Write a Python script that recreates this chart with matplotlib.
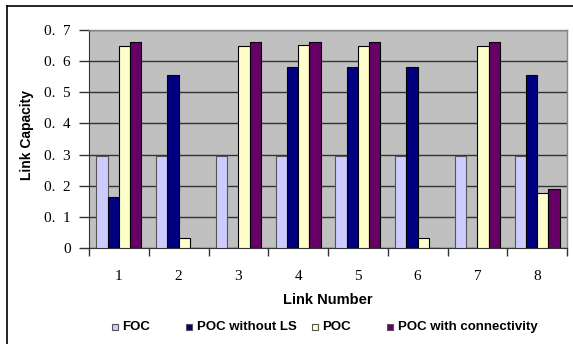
import numpy as np
import matplotlib.pyplot as plt
from matplotlib.lines import Line2D
from matplotlib.patches import Rectangle

links = [1, 2, 3, 4, 5, 6, 7, 8]
foc = [0.295, 0.295, 0.295, 0.295, 0.295, 0.295, 0.295, 0.295]
poc_no_ls = [0.165, 0.555, 0.0, 0.582, 0.582, 0.582, 0.0, 0.557]
poc = [0.65, 0.031, 0.65, 0.652, 0.65, 0.031, 0.65, 0.177]
poc_conn = [0.661, 0.0, 0.661, 0.661, 0.661, 0.0, 0.661, 0.188]

series = [
    ('FOC', foc, '#CCCCFF', '#555555'),
    ('POC without LS', poc_no_ls, '#000080', '#000000'),
    ('POC', poc, '#FFFFCC', '#000000'),
    ('POC with connectivity', poc_conn, '#660066', '#000000'),
]

W, H = 573, 344
fig = plt.figure(figsize=(W / 100, H / 100), dpi=100)
ax = fig.add_axes([89/W, 1-248/H, 478/W, 218/H])
ax.set_facecolor('#C0C0C0')

x = np.arange(len(links))
w = 0.1875
for i, (name, vals, fc, ec) in enumerate(series):
    ax.bar(x + (i - 1.5) * w, vals, width=w, color=fc, edgecolor=ec,
           linewidth=0.8, zorder=3, label=name)

ax.set_xlim(-0.5, len(links) - 0.5)
ax.set_ylim(0, 0.7)
ax.set_yticks(np.arange(0, 0.71, 0.1))
ax.set_yticklabels(['0'] + ['0.\u2002%d' % k for k in range(1, 8)],
                   family='Liberation Serif', fontsize=11)
ax.yaxis.grid(True, color='#333333', linewidth=1, zorder=1)

ax.set_xticks(x)
ax.set_xticklabels([str(l) for l in links], family='Liberation Serif', fontsize=11)
ax.set_xticks(np.arange(-0.5, len(links)), minor=True)
ax.tick_params(axis='x', which='major', length=0, pad=16)
ax.tick_params(axis='x', which='minor', length=6, width=1, color='#333333', direction='out')
ax.tick_params(axis='y', length=7, width=1, color='#333333', direction='out', pad=6)

for s in ['top', 'right']:
    ax.spines[s].set_color('#888888')
    ax.spines[s].set_linewidth(1)
ax.spines['left'].set_color('#333333')
ax.spines['bottom'].set_color('#333333')

ax.set_xlabel('Link Number', family='Liberation Sans', fontweight='bold', fontsize=10.5, labelpad=7)
ax.set_ylabel('Link Capacity', family='Liberation Sans', fontweight='bold', fontsize=10)
ax.yaxis.set_label_coords(-0.115, 0.518)

# legend row drawn by hand: small square + label
mark_x = [112, 186, 312, 387]
text_x = [122, 197, 322, 398]
ly = 327
for (name, _, fc, _), mx, tx in zip(series, mark_x, text_x):
    fig.add_artist(Rectangle((mx/W, 1-(ly+3)/H), 6/W, 6/H, transform=fig.transFigure,
                             facecolor=fc, edgecolor='#555555', linewidth=0.8))
    fig.text(tx/W, 1-ly/H, name, ha='left', va='center', family='Liberation Sans',
             fontweight='bold', fontsize=9.5)

# frame lines on the left and top edges
fig.add_artist(Line2D([7/W, 7/W], [0, 1-6/H], transform=fig.transFigure, color='black', lw=1.2))
fig.add_artist(Line2D([7/W, 1], [1-6/H, 1-6/H], transform=fig.transFigure, color='black', lw=1.2))

fig.savefig('out.png', dpi=100)
